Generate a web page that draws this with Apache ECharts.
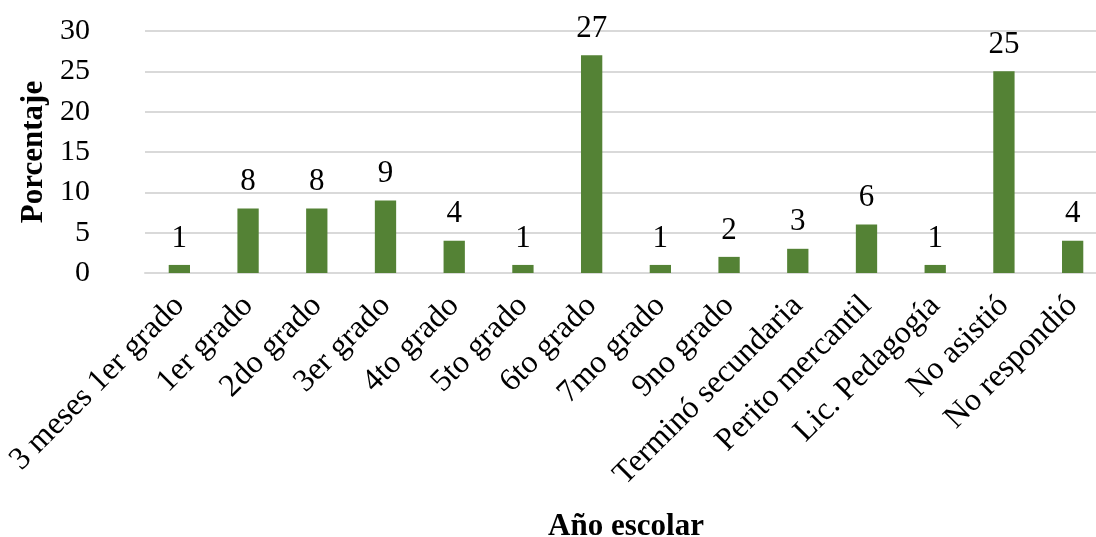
<!DOCTYPE html>
<html>
<head>
<meta charset="utf-8">
<script src="https://cdn.jsdelivr.net/npm/echarts@6/dist/echarts.min.js"></script>
<style>
  html, body { margin: 0; padding: 0; background: #fff; }
  #chart { width: 1096px; height: 537px; }
</style>
</head>
<body>
<div id="chart"></div>
<script>
const categories = ['3 meses 1er grado', '1er grado', '2do grado', '3er grado', '4to grado', '5to grado',
  '6to grado', '7mo grado', '9no grado', 'Terminó secundaria', 'Perito mercantil', 'Lic. Pedagogía',
  'No asistió', 'No respondió']
const values = [1, 8, 8, 9, 4, 1, 27, 1, 2, 3, 6, 1, 25, 4]
const yTicks = [0, 5, 10, 15, 20, 25, 30]

const font = '"Liberation Serif", "Times New Roman", serif'
const fs = 30

const chart = echarts.init(document.getElementById('chart'))
chart.setOption({
  animation: false,
  grid: { left: 145, top: 31, width: 962, height: 242, containLabel: false, outerBoundsMode: 'none' },
  xAxis: {
    type: 'category',
    data: categories,
    name: 'Año escolar',
    nameLocation: 'middle',
    nameGap: 238,
    nameTextStyle: { fontFamily: font, fontSize: 31, fontWeight: 'bold', color: '#000' },
    axisLine: { lineStyle: { color: '#d9d9d9', width: 2 } },
    axisTick: { show: false },
    axisLabel: { rotate: 45, interval: 0, margin: 28, fontFamily: font, fontSize: 32, color: '#000' }
  },
  yAxis: {
    type: 'value',
    min: yTicks[0],
    max: yTicks[yTicks.length - 1],
    interval: 5,
    name: 'Porcentaje',
    nameLocation: 'middle',
    nameGap: 89,
    nameTextStyle: { fontFamily: font, fontSize: 31, fontWeight: 'bold', color: '#000' },
    axisLine: { show: false },
    axisTick: { show: false },
    axisLabel: { margin: 55, align: 'right', fontFamily: font, fontSize: fs, color: '#000' },
    splitLine: { lineStyle: { color: '#d9d9d9', width: 2 } }
  },
  series: [{
    type: 'bar',
    data: values,
    barWidth: '31%',
    itemStyle: { color: '#548235' },
    label: {
      show: true,
      position: 'top',
      distance: 11,
      fontFamily: font,
      fontSize: 31,
      color: '#000'
    }
  }]
})
</script>
</body>
</html>
